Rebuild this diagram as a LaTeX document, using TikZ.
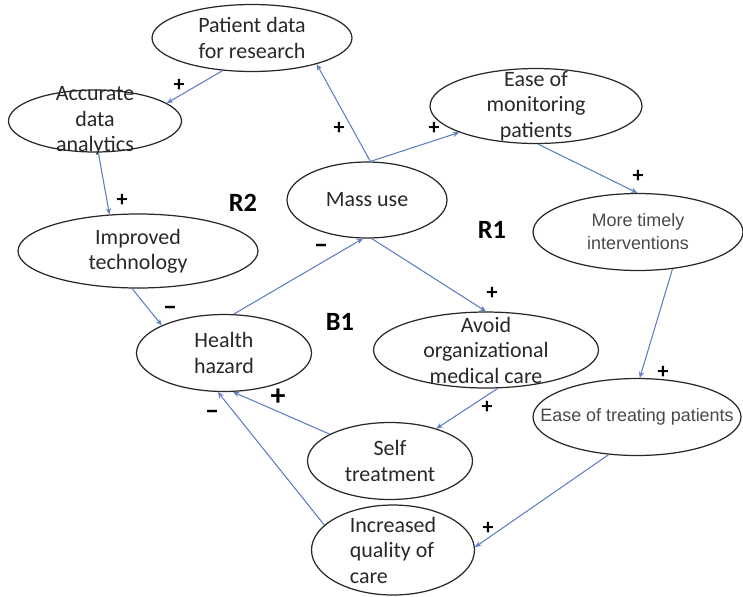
\documentclass[tikz,border=0pt]{standalone}
\usepackage{amsmath}
\usepackage{fontspec}
\setmainfont{Carlito}
\newfontfamily\arialfont{Liberation Sans}
\usepackage{tikz}
\usetikzlibrary{positioning,shapes.geometric,arrows.meta}
\definecolor{linkblue}{RGB}{95,125,195}
\definecolor{inkgray}{RGB}{40,40,40}

\begin{document}
\begin{tikzpicture}[x=0.02cm,y=-0.02cm,
  var/.style={ellipse,draw=inkgray,line width=0.7pt,inner sep=0pt},
  vtext/.style={text=inkgray,align=center,inner sep=0pt,font=\fontsize{12.5}{14.5}\selectfont},
  atext/.style={text=inkgray!85,align=center,inner sep=0pt,font=\arialfont\fontsize{10.2}{13}\selectfont},
  link/.style={draw=linkblue,line width=0.6pt,-{Stealth[length=3.6pt,width=3pt]}},
  sign/.style={text=black,inner sep=0pt,font=\bfseries\fontsize{12.5}{14}\selectfont},
  minus/.style={sign,font=\bfseries\fontsize{16}{18}\selectfont},
  loopname/.style={text=black,inner sep=0pt,font=\bfseries\fontsize{15}{17}\selectfont}]
  \useasboundingbox (0,0) rectangle (743,596);

      \node[var,minimum width=4cm,minimum height=1.34cm,label={[vtext]center:{Patient data\\for research}}](patient) at (252,38){};
      \node[var,minimum width=3.46cm,minimum height=1.24cm,label={[vtext]center:{Accurate\\data\\analytics}}](accurate) at (95,121){};
      \node[var,minimum width=4.8cm,minimum height=1.48cm,label={[vtext]center:{Improved\\technology}}](improved) at (138,251){};
      \node[var,minimum width=3.2cm,minimum height=1.52cm,label={[vtext]center:{Mass use}}](mass) at (367,200){};
      \node[var,minimum width=4.24cm,minimum height=1.5cm,label={[vtext]center:{Ease of\\monitoring\\patients}}](monitor) at (536,106){};
      \node[var,minimum width=4.2cm,minimum height=1.54cm,label={[atext]center:{More timely\\interventions}}](timely) at (638,232){};
      \node[var,minimum width=3.5cm,minimum height=1.54cm,label={[vtext]center:{Health\\hazard}}](hazard) at (224,353){};
      \node[var,minimum width=4.5cm,minimum height=1.52cm,label={[vtext]center:{Avoid\\organizational\\medical care}}](avoid) at (486,350){};
      \node[var,minimum width=3.3cm,minimum height=1.54cm,label={[vtext]center:{Self\\treatment}}](self) at (390,461){};
      \node[var,minimum width=4.16cm,minimum height=1.54cm,label={[atext]center:{Ease of treating patients}}](treating) at (637,417){};
      \node[var,minimum width=3.26cm,minimum height=1.8cm,label={[vtext,align=left]center:{Increased\\quality of\\care}}](quality) at (393,550){};

      \draw[link] (patient.228) -- (accurate.14);
      \draw[link] (accurate.276) -- (improved.128);
      \draw[link] (mass.85) -- (patient.338);
      \draw[link] (mass.85) -- (monitor.199);
      \draw[link] (monitor.273) -- (timely.91);
      \draw[link] (timely.313) -- (treating.86);
      \draw[link] (treating.233) -- (quality.2);
      \draw[link] (improved.261) -- (hazard.156);
      \draw[link] (hazard.76) -- (mass.264);
      \draw[link] (mass.277) -- (avoid.90);
      \draw[link] (avoid.287) -- (self.35);
      \draw[link] (self.156) -- (hazard.283);
      \draw[link] (quality.160) -- (hazard.261);

      \node[sign](s1) at (179,85){+};
      \node[sign](s2) at (122,200){+};
      \node[sign](s3) at (339,128){+};
      \node[sign](s4) at (434,128){+};
      \node[sign](s5) at (638,176){+};
      \node[sign](s6) at (663,372){+};
      \node[sign](s7) at (488,528){+};
      \node[minus](s8) at (170,311){--};
      \node[minus](s9) at (321,249){--};
      \node[sign](s10) at (492,293){+};
      \node[sign](s11) at (487,407){+};
      \node[sign,font=\bfseries\fontsize{17}{19}\selectfont](s12) at (278,397){+};
      \node[minus](s13) at (212,415){--};

      \node[loopname](r2) at (243,203){R2};
      \node[loopname](r1) at (492,230){R1};
      \node[loopname](b1) at (340,322){B1};
    \end{tikzpicture}
\end{document}
